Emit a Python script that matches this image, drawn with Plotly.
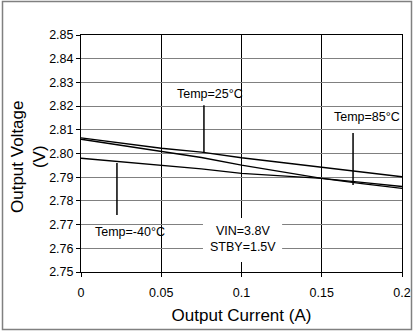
import plotly.graph_objects as go

# ---- data ----
x_current = [0, 0.025, 0.05, 0.075, 0.1, 0.125, 0.15, 0.175, 0.2]
v_temp25 = [2.8066, 2.8045, 2.8022, 2.8006, 2.7982, 2.7962, 2.7942, 2.7924, 2.7902]
v_temp85 = [2.8060, 2.8034, 2.8008, 2.7983, 2.7951, 2.7924, 2.7895, 2.7873, 2.7853]
v_tempm40 = [2.7980, 2.7966, 2.7949, 2.7935, 2.7916, 2.7904, 2.7895, 2.7878, 2.7861]

x_ticks = [0, 0.05, 0.1, 0.15, 0.2]
x_ticktext = ["0", "0.05", "0.1", "0.15", "0.2"]
y_ticks = [2.75, 2.76, 2.77, 2.78, 2.79, 2.80, 2.81, 2.82, 2.83, 2.84, 2.85]
y_ticktext = ["2.75", "2.76", "2.77", "2.78", "2.79", "2.80", "2.81", "2.82", "2.83", "2.84", "2.85"]

# labels: (text, text_x, text_y, pointer_x, pointer_y0, pointer_y1)
temp_labels = [
    ("Temp=25°C", 0.0805, 2.8251, 0.0766, 2.8204, 2.8005),
    ("Temp=85°C", 0.1785, 2.8154, 0.1695, 2.8086, 2.7867),
    ("Temp=-40°C", 0.0305, 2.7670, 0.0224, 2.7960, 2.7740),
]
cond_text = "VIN=3.8V<br>STBY=1.5V"
cond_pos = (0.101, 2.7639)
cond_box = (0.0760, 0.1253, 2.7542, 2.7728)
y_title = "Output Voltage<br>(V)"
x_title = "Output Current (A)"

FONT = "Arial, Liberation Sans, sans-serif"

fig = go.Figure()
for ys in [v_temp25, v_temp85, v_tempm40]:
    fig.add_trace(go.Scatter(x=x_current, y=ys, mode="lines",
                             line=dict(color="black", width=1.4),
                             showlegend=False, hoverinfo="skip"))

shapes = []
annotations = []
for txt, tx, ty, px, py0, py1 in temp_labels:
    annotations.append(dict(x=tx, y=ty, xref="x", yref="y", text=txt, showarrow=False,
                            font=dict(family=FONT, size=12.5, color="black")))
    shapes.append(dict(type="line", xref="x", yref="y", x0=px, x1=px, y0=py0, y1=py1,
                       line=dict(color="black", width=1.5), layer="above"))

shapes.append(dict(type="rect", xref="x", yref="y", x0=cond_box[0], x1=cond_box[1],
                   y0=cond_box[2], y1=cond_box[3], fillcolor="white",
                   line=dict(width=0), layer="between"))
annotations.append(dict(x=cond_pos[0], y=cond_pos[1], xref="x", yref="y", text=cond_text,
                        showarrow=False, font=dict(family=FONT, size=12.5, color="black")))

# outer frame around the whole figure
W, H = 414, 332
ml, mr, mt, mb = 81, 12, 35, 60
pw, ph = W - ml - mr, H - mt - mb
shapes.append(dict(type="rect", xref="paper", yref="paper",
                   x0=(2.5 - ml) / pw, x1=(W - 2.5 - ml) / pw,
                   y0=-(mb - 2.5) / ph, y1=1 + (mt - 1.5) / ph,
                   line=dict(color="#808080", width=1.5), fillcolor="rgba(0,0,0,0)"))

# y-axis title as rotated annotation
annotations.append(dict(x=(28 - ml) / pw, y=(H - mb - 157) / ph, xref="paper", yref="paper",
                        text=y_title, textangle=-90, showarrow=False,
                        xanchor="center", yanchor="middle",
                        font=dict(family=FONT, size=17, color="black")))

fig.update_layout(
    width=W, height=H,
    margin=dict(l=ml, r=mr, t=mt, b=mb, autoexpand=False),
    paper_bgcolor="white", plot_bgcolor="white",
    font=dict(family=FONT, color="black"),
    shapes=shapes, annotations=annotations,
    xaxis=dict(range=[0, 0.2], tickvals=x_ticks, ticktext=x_ticktext,
               showgrid=True, gridcolor="black", gridwidth=1,
               showline=True, linecolor="black", linewidth=1, mirror=True,
               ticks="outside", ticklen=4, tickcolor="black", zeroline=False,
               automargin=False, ticklabelstandoff=5,
               tickfont=dict(family=FONT, size=12.5, color="black"),
               title=dict(text=x_title, standoff=10,
                          font=dict(family=FONT, size=17, color="black"))),
    yaxis=dict(range=[2.75, 2.85], tickvals=y_ticks, ticktext=y_ticktext,
               showgrid=True, gridcolor="#808080", gridwidth=1,
               showline=True, linecolor="black", linewidth=1, mirror=True,
               ticks="outside", ticklen=4, tickcolor="black", zeroline=False,
               automargin=False,
               tickfont=dict(family=FONT, size=12.5, color="black")),
)

fig.write_html("out.html", config={"displayModeBar": False},
               post_script="document.body.style.margin='0';document.body.style.overflow='hidden';")
